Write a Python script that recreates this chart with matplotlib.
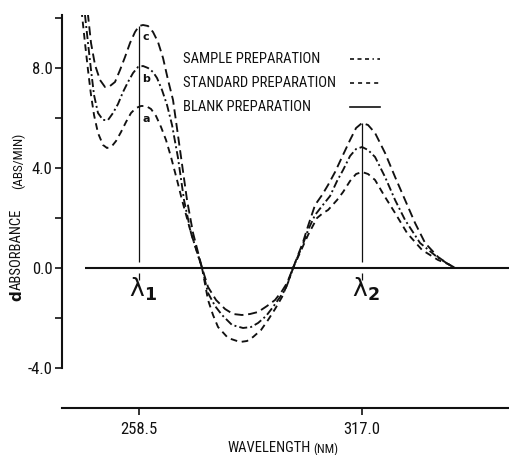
import numpy as np
import matplotlib
matplotlib.use("Agg")
import matplotlib.pyplot as plt
from matplotlib.lines import Line2D

FONT = ["Roboto Condensed", "DejaVu Sans"]
plt.rcParams["font.family"] = FONT
plt.rcParams["axes.unicode_minus"] = False
plt.rcParams["lines.scale_dashes"] = False
plt.rcParams["mathtext.fontset"] = "dejavusans"

# ---- first-derivative spectra (wavelength in nm, dA/dt in abs/min) ----
wl_c = [244.33, 245.12, 245.91, 246.96, 248.27, 249.58, 250.89, 252.20, 253.52,
        254.83, 256.14, 257.45, 258.50, 259.55, 260.86, 262.17, 263.48, 264.80,
        266.11, 267.42, 269.26, 271.09, 272.67, 275.03,
        276.60, 278.70, 281.06, 283.16, 285.52, 287.62, 289.72, 292.08, 294.18,
        296.01, 297.32, 298.90,
        300.21, 301.52, 302.83, 304.67, 306.51, 308.08, 309.92, 311.75, 313.85,
        315.43, 317.00, 318.57, 320.41, 323.03, 325.66, 328.28, 330.90, 333.53,
        336.94, 339.56, 341.40]
d_c = [11.12, 10.12, 9.00, 8.12, 7.52, 7.24, 7.28, 7.44, 7.92,
       8.44, 9.00, 9.44, 9.68, 9.72, 9.68, 9.44, 9.04, 8.40,
       7.52, 6.72, 4.72, 2.72, 1.40, 0.00,
       -0.76, -1.28, -1.64, -1.84, -1.88, -1.84, -1.76, -1.52, -1.28,
       -0.92, -0.60, 0.00,
       0.52, 1.04, 1.68, 2.52, 2.92, 3.32, 3.84, 4.44, 5.12,
       5.60, 5.80, 5.72, 5.40, 4.60, 3.64, 2.72, 1.80, 1.00,
       0.44, 0.16, 0.00]

wl_b = [243.55, 244.33, 245.12, 245.91, 246.70, 247.74, 249.06, 250.37, 251.68,
        252.99, 254.30, 255.61, 256.93, 258.24, 259.55, 260.86, 262.17, 263.22,
        264.53, 265.85, 267.16, 268.73, 270.30, 272.14, 275.03,
        276.60, 278.44, 280.27, 282.90, 285.78, 287.88, 289.72, 291.82, 293.65,
        295.49, 296.80, 297.85, 298.90,
        300.21, 301.52, 302.83, 304.67, 306.51, 308.61, 310.44, 312.02, 313.85,
        315.43, 317.00, 318.57, 320.41, 323.03, 325.66, 328.28, 332.21, 336.67,
        339.56, 341.40]
d_b = [11.12, 10.12, 9.00, 7.92, 6.92, 6.20, 5.92, 5.92, 6.20,
       6.56, 7.04, 7.44, 7.80, 8.04, 8.08, 8.00, 7.84, 7.60,
       7.12, 6.52, 5.72, 4.40, 2.72, 1.40, 0.00,
       -1.00, -1.52, -1.88, -2.28, -2.40, -2.36, -2.20, -1.92, -1.56,
       -1.16, -0.88, -0.48, 0.00,
       0.48, 0.96, 1.52, 2.12, 2.48, 2.88, 3.48, 3.92, 4.48,
       4.76, 4.84, 4.72, 4.44, 3.64, 2.72, 1.92, 1.00, 0.44,
       0.16, 0.00]

wl_a = [242.76, 243.55, 244.33, 245.12, 245.91, 246.70, 247.74, 249.06, 250.11,
        251.42, 252.47, 253.78, 255.09, 256.40, 257.71, 259.02, 260.34, 261.65,
        262.96, 264.27, 265.58, 266.89, 268.47, 269.78, 272.14, 275.03,
        276.60, 277.91, 279.22, 281.85, 285.00, 286.83, 288.41, 290.50, 292.34,
        294.18, 296.01, 297.59, 298.90,
        300.21, 301.52, 302.83, 305.19, 306.77, 308.08, 310.44, 312.02, 313.85,
        315.43, 317.00, 318.57, 320.41, 323.03, 325.66, 328.80, 332.74, 336.94,
        339.56, 341.40]
d_a = [11.12, 10.12, 9.00, 7.92, 6.92, 6.12, 5.40, 4.92, 4.80,
       4.88, 5.08, 5.44, 5.84, 6.20, 6.40, 6.48, 6.48, 6.36,
       6.08, 5.64, 5.12, 4.44, 3.52, 2.72, 1.40, 0.00,
       -1.28, -1.88, -2.36, -2.80, -2.96, -2.92, -2.76, -2.48, -2.08,
       -1.64, -1.16, -0.56, 0.00,
       0.44, 0.88, 1.32, 2.00, 2.20, 2.32, 2.72, 3.04, 3.48,
       3.76, 3.84, 3.76, 3.52, 2.84, 2.20, 1.40, 0.72, 0.32,
       0.16, 0.00]

# blank preparation: flat baseline
wl_blank = [244.3, 355.8]
d_blank = [0.0, 0.0]

lambda_1 = 258.5
lambda_2 = 317.0
x_ticks = [258.5, 317.0]
x_tick_labels = ["258.5", "317.0"]
y_major = [-4.0, 0.0, 4.0, 8.0]
y_minor = [-2.0, 2.0, 6.0, 10.0]

legend_labels = ["SAMPLE PREPARATION", "STANDARD PREPARATION", "BLANK PREPARATION"]

W, H = 510, 455
fig = plt.figure(figsize=(W / 100, H / 100), dpi=100)
ax = fig.add_axes([62 / W, 47 / H, 448 / W, 393 / H])
ax.set_xlim(238.3, 355.8)
ax.set_ylim(-5.6, 10.12)

ink = "#111111"
lw_curve = 1.35

ax.plot(wl_c, d_c, color=ink, lw=lw_curve, dashes=(6.5, 3.4))
ax.plot(wl_b, d_b, color=ink, lw=lw_curve, dashes=(5.8, 2.2, 1.4, 2.2))
ax.plot(wl_a, d_a, color=ink, lw=lw_curve, dashes=(4.8, 3.4))
ax.plot(wl_blank, d_blank, color=ink, lw=1.5, solid_capstyle="butt")

# analytical wavelengths
for lam, sub in [(lambda_1, "1"), (lambda_2, "2")]:
    top = float(np.interp(lam, wl_c, d_c))
    ax.vlines(lam, 0.25, top, color=ink, lw=0.9)
    ax.vlines(lam, -0.48, -0.2, color=ink, lw=0.9)
    ax.annotate(r"$\mathrm{\lambda}_{\mathbf{%s}}$" % sub, xy=(lam, -0.76),
                xytext=(3, -2), textcoords="offset points",
                ha="center", va="center", fontsize=18, color=ink)

# curve identifiers under the first maximum
for name, wl, d in [("a", wl_a, d_a), ("b", wl_b, d_b), ("c", wl_c, d_c)]:
    seg = [v for w, v in zip(wl, d) if 256 < w < 263]
    ax.text(lambda_1 + 1.8, max(seg) - 0.5, name, ha="center", va="center",
            fontsize=8, fontweight="bold", color=ink, family="DejaVu Sans")

# axes styling
for s in ["top", "right"]:
    ax.spines[s].set_visible(False)
ax.spines["left"].set_bounds(-4.0, 10.12)
for s in ["left", "bottom"]:
    ax.spines[s].set_linewidth(1.5)
    ax.spines[s].set_color(ink)

ax.set_yticks(y_major)
ax.set_yticklabels(["%.1f" % v for v in y_major])
ax.set_yticks(y_minor, minor=True)
ax.set_xticks(x_ticks)
ax.set_xticklabels(x_tick_labels)
ax.tick_params(axis="y", which="both", direction="out", length=5, width=1.2,
               pad=2, labelsize=12, colors=ink)
ax.tick_params(axis="x", which="both", direction="out", length=5, width=1.2,
               pad=5, labelsize=12, colors=ink)


def fpix(x, y):
    return x / W, 1 - y / H


def ftext(x, y, s, **kw):
    fig.text(*fpix(x, y), s, color=ink, **kw)


# legend: labels on the left, line samples on the right
legend_styles = [
    dict(dashes=(2.9, 2.5, 2.9, 2.5, 2.9, 2.5, 1.0, 2.5)),
    dict(dashes=(2.9, 2.9)),
    dict(),
]
for i, (label, style) in enumerate(zip(legend_labels, legend_styles)):
    y = 59 + 24 * i
    ftext(183, y, label, ha="left", va="center", fontsize=10.5)
    (x0, y0), (x1, _) = fpix(350, y), fpix(380, y)
    fig.add_artist(Line2D([x0, x1], [y0, y0], transform=fig.transFigure,
                          color=ink, lw=1.2, **style))

# axis titles
ftext(17, 301, "d", rotation=90, ha="center", va="bottom", fontsize=11,
      fontweight="bold", family="DejaVu Sans")
ftext(17, 290, "ABSORBANCE", rotation=90, ha="center", va="bottom", fontsize=10.5)
ftext(18, 161, "(ABS/MIN)", rotation=90, ha="center", va="center", fontsize=9.5)
ftext(227, 448, "WAVELENGTH", ha="left", va="center", fontsize=10.5)
ftext(313, 449, "(NM)", ha="left", va="center", fontsize=9)

fig.savefig("out.png", dpi=100)
